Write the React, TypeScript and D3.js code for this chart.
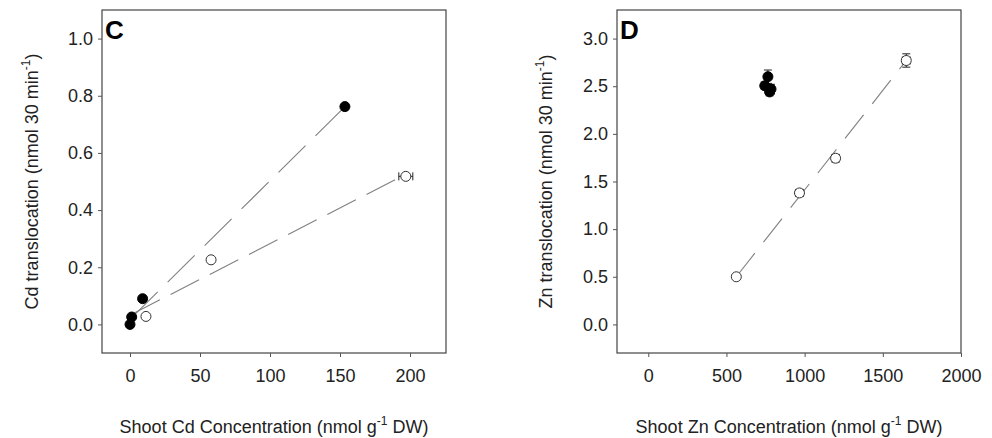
import React, { useEffect, useRef } from 'react';
import * as d3 from 'd3';

// ---- panel C : Cd ----
const cdFilledX = [0, 1.2, 9, 153.5];
const cdFilledY = [0.0, 0.026, 0.09, 0.762];
const cdFilledXErr = [0, 0, 0, 1.5];
const cdOpenX = [11.4, 57.9, 197];
const cdOpenY = [0.028, 0.226, 0.518];
const cdOpenXErr = [0, 0, 5];
const cdFilledFitX = [0.5, 153.5];
const cdFilledFitY = [0.02, 0.762];
const cdOpenFitX = [1, 195];
const cdOpenFitY = [0.035, 0.52];
const cdXTicks = [0, 50, 100, 150, 200];
const cdYTicks = [0, 0.2, 0.4, 0.6, 0.8, 1.0];

// ---- panel D : Zn ----
const znFilledX = [765, 745, 785, 776];
const znFilledY = [2.6, 2.505, 2.47, 2.44];
const znFilledYErr = [0.07, 0.04, 0.05, 0.04];
const znOpenX = [563, 967, 1198, 1650];
const znOpenY = [0.5, 1.38, 1.744, 2.77];
const znOpenXErr = [0, 25, 22, 25];
const znOpenYErr = [0, 0.03, 0.04, 0.07];
const znFitX = [563, 1650];
const znFitY = [0.5, 2.77];
const znXTicks = [0, 500, 1000, 1500, 2000];
const znYTicks = [0, 0.5, 1.0, 1.5, 2.0, 2.5, 3.0];

const FONT = "'Liberation Sans', Arial, sans-serif";

type Pt = { x: number; y: number; xe?: number; ye?: number };

const zip = (xs: number[], ys: number[], xe?: number[], ye?: number[]): Pt[] =>
  xs.map((x, i) => ({ x, y: ys[i], xe: xe ? xe[i] : 0, ye: ye ? ye[i] : 0 }));

function drawPanel(svg: any, cfg: any) {
  const { left, right, top, bottom } = cfg.box;
  const x = d3.scaleLinear().domain(cfg.xDomain).range([left, right]);
  const y = d3.scaleLinear().domain(cfg.yDomain).range([bottom, top]);
  const g = svg.append('g');

  // frame
  g.append('rect')
    .attr('x', left).attr('y', top)
    .attr('width', right - left).attr('height', bottom - top)
    .attr('fill', 'none').attr('stroke', '#444').attr('stroke-width', 1.2);

  // axes, ticks pointing out
  const xAxis = g.append('g')
    .attr('transform', `translate(0,${bottom})`)
    .call(d3.axisBottom(x).tickValues(cfg.xTicks).tickSize(4).tickPadding(12).tickFormat(d3.format('d')));
  const yAxis = g.append('g')
    .attr('transform', `translate(${left},0)`)
    .call(d3.axisLeft(y).tickValues(cfg.yTicks).tickSize(4).tickPadding(5).tickFormat(d3.format('.1f')));
  [xAxis, yAxis].forEach(a => {
    a.select('.domain').remove();
    a.selectAll('line').attr('stroke', '#555');
    a.selectAll('text').attr('font-family', FONT).attr('font-size', 18).attr('fill', '#222');
  });

  // fit lines
  cfg.fits.forEach((f: any) => {
    g.append('path')
      .datum(f.pts)
      .attr('d', d3.line<Pt>().x(d => x(d.x)).y(d => y(d.y)))
      .attr('fill', 'none')
      .attr('stroke', '#808080')
      .attr('stroke-width', 1.1)
      .attr('stroke-dasharray', f.dash);
  });

  // series: error bars then markers
  cfg.series.forEach((s: any) => {
    const eb = g.append('g').attr('stroke', '#222').attr('stroke-width', 1);
    s.pts.forEach((d: Pt) => {
      if (d.xe) {
        eb.append('line').attr('x1', x(d.x - d.xe)).attr('x2', x(d.x + d.xe)).attr('y1', y(d.y)).attr('y2', y(d.y));
        [d.x - d.xe, d.x + d.xe].forEach(v =>
          eb.append('line').attr('x1', x(v)).attr('x2', x(v)).attr('y1', y(d.y) - 4).attr('y2', y(d.y) + 4));
      }
      if (d.ye) {
        eb.append('line').attr('x1', x(d.x)).attr('x2', x(d.x)).attr('y1', y(d.y - d.ye)).attr('y2', y(d.y + d.ye));
        [d.y - d.ye, d.y + d.ye].forEach(v =>
          eb.append('line').attr('x1', x(d.x) - 4).attr('x2', x(d.x) + 4).attr('y1', y(v)).attr('y2', y(v)));
      }
    });
    g.selectAll(null)
      .data(s.pts)
      .enter()
      .append('circle')
      .attr('cx', (d: Pt) => x(d.x))
      .attr('cy', (d: Pt) => y(d.y))
      .attr('r', 5)
      .attr('fill', s.filled ? '#000' : '#fff')
      .attr('stroke', s.filled ? '#000' : '#333')
      .attr('stroke-width', 1);
  });

  // panel letter
  g.append('text')
    .attr('x', left + 3).attr('y', top + 29)
    .attr('font-family', FONT).attr('font-weight', 'bold').attr('font-size', 26)
    .text(cfg.letter);

  // y label
  const yl = g.append('text')
    .attr('transform', `translate(${cfg.yLabelX},${(top + bottom) / 2}) rotate(-90)`)
    .attr('text-anchor', 'middle')
    .attr('font-family', FONT).attr('font-size', 18).attr('fill', '#222');
  yl.append('tspan').text(cfg.yLabel);
  yl.append('tspan').attr('font-size', 12).attr('dy', -8).text('-1');
  yl.append('tspan').attr('dy', 8).text(')');

  // x label
  const xl = g.append('text')
    .attr('x', (left + right) / 2).attr('y', 433)
    .attr('text-anchor', 'middle')
    .attr('font-family', FONT).attr('font-size', 18).attr('fill', '#222');
  xl.append('tspan').text(cfg.xLabel);
  xl.append('tspan').attr('font-size', 12).attr('dy', -8).text('-1');
  xl.append('tspan').attr('dy', 8).text(' DW)');
}

const App = () => {
  const ref = useRef<SVGSVGElement>(null);

  useEffect(() => {
    const svg = d3.select(ref.current);
    svg.selectAll('*').remove();

    drawPanel(svg, {
      letter: 'C',
      box: { left: 102, right: 446, top: 10, bottom: 353 },
      xDomain: [-20, 225.7],
      yDomain: [-0.1, 1.1],
      xTicks: cdXTicks,
      yTicks: cdYTicks,
      yLabelX: 38,
      yLabel: 'Cd translocation (nmol 30 min',
      xLabel: 'Shoot Cd Concentration (nmol g',
      fits: [
        { pts: zip(cdFilledFitX, cdFilledFitY), dash: '38,14' },
        { pts: zip(cdOpenFitX, cdOpenFitY), dash: '32,12' },
      ],
      series: [
        { pts: zip(cdOpenX, cdOpenY, cdOpenXErr), filled: false },
        { pts: zip(cdFilledX, cdFilledY, cdFilledXErr), filled: true },
      ],
    });

    drawPanel(svg, {
      letter: 'D',
      box: { left: 617, right: 961, top: 10, bottom: 353 },
      xDomain: [-200, 2000],
      yDomain: [-0.3, 3.3],
      xTicks: znXTicks,
      yTicks: znYTicks,
      yLabelX: 552,
      yLabel: 'Zn translocation (nmol 30 min',
      xLabel: 'Shoot Zn Concentration (nmol g',
      fits: [{ pts: zip(znFitX, znFitY), dash: '30,14' }],
      series: [
        { pts: zip(znOpenX, znOpenY, znOpenXErr, znOpenYErr), filled: false },
        { pts: zip(znFilledX, znFilledY, undefined, znFilledYErr), filled: true },
      ],
    });
  }, []);

  return (
    <div style={{ position: 'absolute', left: 0, top: 0, background: '#fff' }}>
      <svg ref={ref} width={992} height={438} />
    </div>
  );
};

export default App;
